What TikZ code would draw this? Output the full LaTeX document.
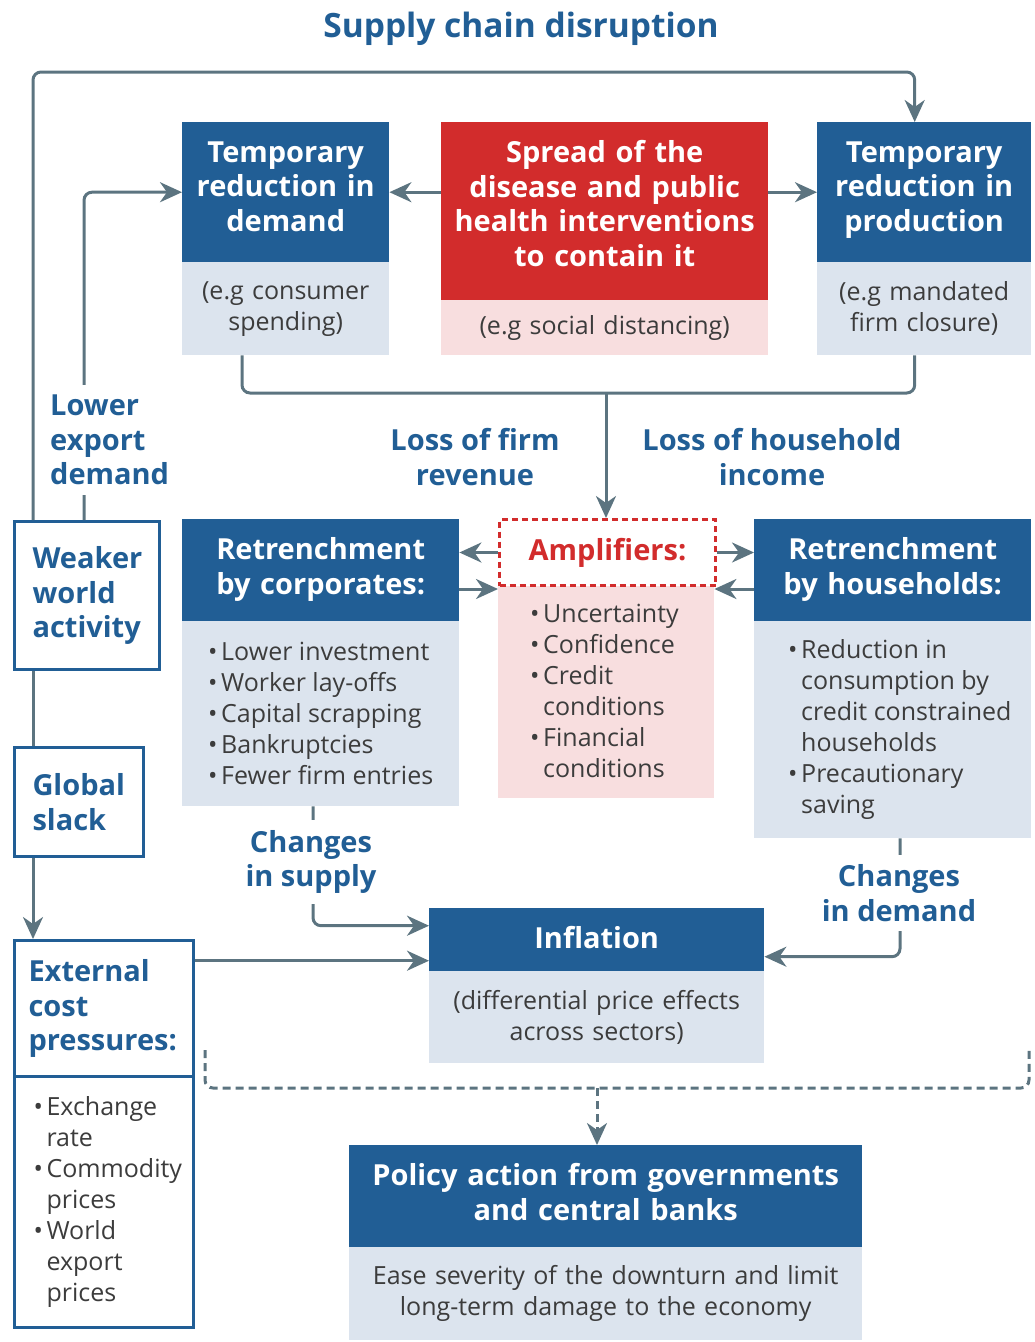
\documentclass[tikz,border=0pt]{standalone}
\usepackage{fontspec}
\setmainfont{Open Sans}
\usetikzlibrary{arrows.meta,calc}
\definecolor{boeblue}{HTML}{215E95}
\definecolor{boelight}{HTML}{DCE4EE}
\definecolor{boered}{HTML}{D22C2C}
\definecolor{boepink}{HTML}{F8DEDF}
\definecolor{linegray}{HTML}{5C7480}
\definecolor{txtgray}{HTML}{3C3C3C}
\newcommand{\hdfont}{\fontsize{29}{34.5}\selectfont\bfseries}
\newcommand{\bdfont}{\fontsize{25}{31}\selectfont}
\newcommand{\bl}[1]{\mbox{\makebox[0.52em][l]{\textbullet}#1}}
\newcommand{\ct}[1]{\mbox{\hspace*{0.52em}#1}}
\begin{document}
\begin{tikzpicture}[x=1pt,y=-1pt,
  hd/.style={fill=boeblue,text=white,font=\hdfont,inner sep=0pt,align=center,anchor=north west},
  bd/.style={fill=boelight,text=txtgray,font=\bdfont,inner sep=0pt,align=center,anchor=north west},
  ol/.style={draw=boeblue,line width=3pt,fill=white,text=boeblue,font=\hdfont,inner sep=0pt,align=flush left,anchor=north west},
  lbl/.style={text=boeblue,font=\hdfont,inner xsep=2pt,inner ysep=10pt,fill=white},
  line/.style={draw=linegray,line width=3pt,rounded corners=8pt},
  arr/.style={line,-{Stealth[length=22pt,width=20pt,inset=7pt]}},
  dsh/.style={line,dash pattern=on 8pt off 5pt}]
\useasboundingbox (0,0) rectangle (1034,1342);

\node[font=\fontsize{33.5}{38}\selectfont\bfseries,text=boeblue] (ttl) at (521,29) {Supply chain disruption};

\node[hd,minimum width=207pt,minimum height=140pt,text width=187pt,text depth=81pt] (dem) at (182,122) {Temporary\\reduction in\\demand};
\node[bd,minimum width=207pt,minimum height=93pt,text width=187pt] (demb) at (182,262) {(e.g consumer\\spending)};
\node[hd,fill=boered,minimum width=327pt,minimum height=178pt,text width=311pt,text depth=119pt] (spr) at (441,122) {Spread of the\\disease and public\\health interventions\\to contain it};
\node[bd,fill=boepink,minimum width=327pt,minimum height=55pt,text width=307pt] (sprb) at (441,300) {(e.g social distancing)};
\node[hd,minimum width=214pt,minimum height=140pt,text width=194pt,text depth=81pt] (prd) at (817,122) {Temporary\\reduction in\\production};
\node[bd,minimum width=214pt,minimum height=93pt,text width=194pt] (prdb) at (817,262) {(e.g mandated\\firm closure)};

\node[hd,minimum width=277pt,minimum height=102pt,text width=257pt,text depth=43pt] (corp) at (182,519) {Retrenchment\\by corporates:};
\node[bd,align=flush left,minimum width=277pt,minimum height=185pt,text width=225pt] (corpb) at (182,621) {\bl{Lower investment}\\\bl{Worker lay-offs}\\\bl{Capital scrapping}\\\bl{Bankruptcies}\\\bl{Fewer firm entries}};
\node[bd,fill=boepink,align=flush left,minimum width=216pt,minimum height=214pt,text width=152pt] (ampb) at (498,584) {\bl{Uncertainty}\\\bl{Confidence}\\\bl{Credit}\\\ct{conditions}\\\bl{Financial}\\\ct{conditions}};
\node[draw=boered,dash pattern=on 6pt off 4pt,line width=3pt,fill=white,text=boered,font=\hdfont,inner sep=0pt,anchor=north west,minimum width=216pt,minimum height=66pt] (amp) at (498,518) {Amplifiers:};
\node[hd,minimum width=277pt,minimum height=102pt,text width=257pt,text depth=43pt] (hh) at (754,519) {Retrenchment\\by households:};
\node[bd,align=flush left,minimum width=277pt,minimum height=217pt,text width=209pt] (hhb) at (754,621) {\bl{Reduction in}\\\ct{consumption by}\\\ct{credit constrained}\\\ct{households}\\\bl{Precautionary}\\\ct{saving}};

\node[ol,minimum width=145pt,minimum height=148pt,text width=109pt] (wk) at (13,520) {Weaker\\world\\activity};
\node[ol,minimum width=129pt,minimum height=109pt,text width=93pt] (gs) at (13,746) {Global\\slack};
\node[ol,minimum width=179pt,minimum height=136pt,text width=151pt] (ext) at (13,939) {External\\cost\\pressures:};
\node[ol,text=txtgray,font=\bdfont,minimum width=179pt,minimum height=251pt,text width=141pt] (extb) at (13,1075) {\bl{Exchange}\\\ct{rate}\\\bl{Commodity}\\\ct{prices}\\\bl{World}\\\ct{export}\\\ct{prices}};

\node[hd,minimum width=335pt,minimum height=63pt,text width=315pt,text depth=4pt] (inf) at (429,908) {Inflation};
\node[bd,minimum width=335pt,minimum height=92pt,text width=315pt] (infb) at (429,971) {(differential price effects\\across sectors)};
\node[hd,minimum width=513pt,minimum height=102pt,text width=493pt,text depth=43pt] (pol) at (349,1145) {Policy action from governments\\and central banks};
\node[bd,minimum width=513pt,minimum height=93pt,text width=493pt] (polb) at (349,1247) {Ease severity of the downturn and limit\\long-term damage to the economy};

\coordinate (jn) at (606,393);
\coordinate (dl) at (205,1050);
\coordinate (dr) at (1029,1050);
\coordinate (dm) at (597,1088);
\coordinate (al) at ($(ampb.north west)+(0,5)$);
\coordinate (ar) at ($(ampb.north east)+(0,5)$);
\coordinate (il) at ($(inf.west)+(0,21)$);

\draw[arr] (spr.west |- dem.east) -- (dem.east);
\draw[arr] (spr.east |- prd.west) -- (prd.west);
\draw[arr] ([xshift=20pt]wk.north west) -- ++(0,-448) -| ([xshift=-9.5pt]prd.north);
\draw[arr] ([xshift=71pt]wk.north west) |- (dem.west);
\draw[line] ([xshift=20pt]wk.south west) -- ([xshift=20pt]gs.north west);
\draw[arr] ([xshift=20pt]gs.south west) -- ([xshift=20pt]ext.north west);
\draw[line] ([xshift=60pt]demb.south west) |- (jn) -| ([xshift=-9.5pt]prdb.south);
\draw[arr] (jn) -- (jn |- amp.north);
\draw[arr] (amp.west) -- (corp.east |- amp.west);
\draw[arr] (corp.east |- al) -- (al);
\draw[arr] (amp.east) -- (hh.west |- amp.east);
\draw[arr] (hh.west |- ar) -- (ar);
\draw[arr] (ext.east |- il) -- (il);
\draw[arr] ([xshift=131pt]corpb.south west) |- ($(inf.west)+(0,-14)$);
\draw[arr] ([xshift=146pt]hhb.south west) |- ($(inf.east)+(0,17)$);
\draw[dsh] (dl) |- (dm) -| (dr);
\draw[dsh,-{Stealth[length=22pt,width=20pt,inset=7pt]}] (dm) -- (dm |- pol.north);

\node[lbl,align=flush left,anchor=west] (led) at (48,440) {Lower\\export\\demand};
\node[lbl,align=center] (lfr) at (475,457) {Loss of firm\\revenue};
\node[lbl,align=center] (lhi) at (772,457) {Loss of household\\income};
\node[lbl,align=center] (cis) at (311,862) {Changes\\in supply};
\node[lbl,align=center] (cid) at (899,893) {Changes\\in demand};
\end{tikzpicture}
\end{document}
